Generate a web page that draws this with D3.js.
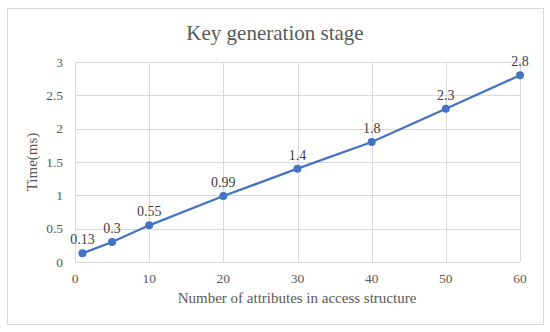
<!DOCTYPE html>
<html>
<head>
<meta charset="utf-8">
<script src="https://cdn.jsdelivr.net/npm/d3@7"></script>
<style>
  body { margin: 0; background: #fff; }
  text { font-family: "Liberation Serif", "Times New Roman", serif; }
</style>
</head>
<body>
<script>
let attributes = [1, 5, 10, 20, 30, 40, 50, 60]
let times = [0.13, 0.3, 0.55, 0.99, 1.4, 1.8, 2.3, 2.8]
let timeLabels = ["0.13", "0.3", "0.55", "0.99", "1.4", "1.8", "2.3", "2.8"]
let xTicks = [0, 10, 20, 30, 40, 50, 60]
let yTicks = [0, 0.5, 1, 1.5, 2, 2.5, 3]

let width = 550
let height = 332

let svg = d3.select('body').append('svg')
    .attr('width', width)
    .attr('height', height)

svg.append('rect')
    .attr('x', 7.5).attr('y', 8.5)
    .attr('width', 536).attr('height', 316)
    .attr('fill', '#fff')
    .attr('stroke', '#d9d9d9')

let x = d3.scaleLinear().domain([0, 60]).range([75, 520])
let y = d3.scaleLinear().domain([0, 3]).range([262, 62])

// grid
svg.append('g').selectAll('line.h')
    .data(yTicks).enter().append('line')
    .attr('x1', x(0)).attr('x2', x(60))
    .attr('y1', d => Math.round(y(d)) + 0.5).attr('y2', d => Math.round(y(d)) + 0.5)
    .attr('stroke', '#d9d9d9')

svg.append('g').selectAll('line.v')
    .data(xTicks).enter().append('line')
    .attr('y1', y(0)).attr('y2', y(3))
    .attr('x1', d => Math.round(x(d)) + 0.5).attr('x2', d => Math.round(x(d)) + 0.5)
    .attr('stroke', '#d9d9d9')

// tick labels
svg.append('g').selectAll('text')
    .data(yTicks).enter().append('text')
    .attr('x', 63).attr('y', d => y(d) + 4.5)
    .attr('text-anchor', 'end')
    .attr('font-size', 13.5)
    .attr('fill', '#595959')
    .text(d => d)

svg.append('g').selectAll('text')
    .data(xTicks).enter().append('text')
    .attr('x', d => x(d)).attr('y', 283)
    .attr('text-anchor', 'middle')
    .attr('font-size', 13.5)
    .attr('fill', '#595959')
    .text(d => d)

// titles
svg.append('text')
    .attr('x', 275).attr('y', 40)
    .attr('text-anchor', 'middle')
    .attr('font-size', 21)
    .attr('fill', '#595959')
    .text('Key generation stage')

svg.append('text')
    .attr('x', 297).attr('y', 303)
    .attr('text-anchor', 'middle')
    .attr('font-size', 15)
    .attr('fill', '#595959')
    .text('Number of attributes in access structure')

svg.append('text')
    .attr('transform', 'translate(37,' + y(1.5) + ') rotate(-90)')
    .attr('text-anchor', 'middle')
    .attr('font-size', 15)
    .attr('fill', '#595959')
    .text('Time(ms)')

// series
let pts = attributes.map((a, i) => [a, times[i]])

svg.append('path')
    .datum(pts)
    .attr('fill', 'none')
    .attr('stroke', '#4472c4')
    .attr('stroke-width', 2.25)
    .attr('d', d3.line().x(d => x(d[0])).y(d => y(d[1])))

svg.append('g').selectAll('circle')
    .data(pts).enter().append('circle')
    .attr('cx', d => x(d[0])).attr('cy', d => y(d[1]))
    .attr('r', 4)
    .attr('fill', '#4472c4')

svg.append('g').selectAll('text')
    .data(pts).enter().append('text')
    .attr('x', d => x(d[0])).attr('y', d => y(d[1]) - 9)
    .attr('text-anchor', 'middle')
    .attr('font-size', 14)
    .attr('fill', '#404040')
    .text((d, i) => timeLabels[i])
</script>
</body>
</html>
